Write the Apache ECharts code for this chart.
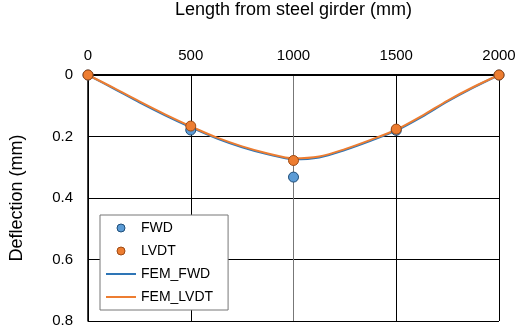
<!DOCTYPE html>
<html><head><meta charset="utf-8">
<script src="https://cdn.jsdelivr.net/npm/echarts@6/dist/echarts.min.js"></script>
<style>html,body{margin:0;padding:0;background:#fff}#c{width:518px;height:326px}</style>
</head><body><div id="c"></div>
<script>
var xTicks = [0, 500, 1000, 1500, 2000];
var fwdX = [0, 500, 1000, 1500, 2000];
var fwdY = [0, 0.179, 0.332, 0.180, 0];
var lvdtX = [0, 500, 1000, 1500, 2000];
var lvdtY = [0, 0.166, 0.278, 0.176, 0];
var femX = [0, 125, 250, 375, 500, 625, 750, 875, 1000, 1125, 1250, 1375, 1500, 1625, 1750, 1875, 2000];
var femFwdY = [0, 0.044, 0.089, 0.131, 0.170, 0.206, 0.235, 0.258, 0.274, 0.268, 0.244, 0.214, 0.181, 0.136, 0.086, 0.041, 0];
var femLvdtY = [0, 0.042, 0.086, 0.128, 0.167, 0.203, 0.232, 0.255, 0.271, 0.265, 0.241, 0.211, 0.178, 0.133, 0.083, 0.039, 0];

function pairs(xs, ys){ return xs.map(function(x,i){return [x, ys[i]];}); }
var font = 'Liberation Sans, Arial, sans-serif';
var chart = echarts.init(document.getElementById('c'), null, {renderer:'canvas'});
chart.setOption({
  animation: false,
  backgroundColor: '#fff',
  grid: {left: 88, right: 19, top: 75, bottom: 5, show: false, containLabel: false, outerBoundsMode: 'none'},
  xAxis: {
    type: 'value', position: 'top', min: 0, max: 2000, interval: 500,
    name: 'Length from steel girder (mm)', nameLocation: 'middle', nameGap: 56,
    nameTextStyle: {fontFamily: font, fontSize: 18, color: '#000'},
    axisLine: {show: true, lineStyle: {color: '#000', width: 2}},
    axisTick: {show: false},
    axisLabel: {fontFamily: font, fontSize: 15, color: '#000', margin: 12,
      formatter: function(v){ return String(v); }},
    splitLine: {show: true, lineStyle: {color: ['#000','#000','#777','#000','#000'], width: 1}}
  },
  yAxis: {
    type: 'value', inverse: true, min: 0, max: 0.8, interval: 0.2,
    name: 'Deflection (mm)', nameLocation: 'middle', nameGap: 62,
    nameTextStyle: {fontFamily: font, fontSize: 18, color: '#000'},
    axisLine: {show: true, lineStyle: {color: '#000', width: 1.5}},
    axisTick: {show: false},
    axisLabel: {fontFamily: font, fontSize: 15, color: '#000', margin: 15,
      formatter: function(v){ return String(Math.round(v*10)/10); }},
    splitLine: {show: true, lineStyle: {color: '#000', width: 1}}
  },
  legend: {
    orient: 'vertical', left: 100, top: 215,
    backgroundColor: '#fff', borderColor: '#777', borderWidth: 1, borderRadius: 0,
    padding: [6, 15, 6, 6],
    itemWidth: 30, itemHeight: 8, itemGap: 9,
    textStyle: {fontFamily: font, fontSize: 14, color: '#000'},
    data: [
      {name: 'FWD', icon: 'circle', itemStyle: {borderColor: '#1F4E79', borderWidth: 1}},
      {name: 'LVDT', icon: 'circle', itemStyle: {borderColor: '#9E4A14', borderWidth: 1}},
      {name: 'FEM_FWD', icon: 'path://M0,3 L30,3 L30,5 L0,5 Z'},
      {name: 'FEM_LVDT', icon: 'path://M0,3 L30,3 L30,5 L0,5 Z'}
    ]
  },
  series: [
    {name: 'FEM_FWD', type: 'line', data: pairs(femX, femFwdY), smooth: 0.3, showSymbol: false,
     lineStyle: {color: '#2E75B6', width: 2}, itemStyle: {color: '#2E75B6'}, z: 2},
    {name: 'FEM_LVDT', type: 'line', data: pairs(femX, femLvdtY), smooth: 0.3, showSymbol: false,
     lineStyle: {color: '#ED7D31', width: 2}, itemStyle: {color: '#ED7D31'}, z: 3},
    {name: 'FWD', type: 'scatter', data: pairs(fwdX, fwdY), symbolSize: 10,
     itemStyle: {color: '#5B9BD5', borderColor: '#1F4E79', borderWidth: 1, opacity: 1}, z: 4},
    {name: 'LVDT', type: 'scatter', data: pairs(lvdtX, lvdtY), symbolSize: 10,
     itemStyle: {color: '#ED7D31', borderColor: '#9E4A14', borderWidth: 1, opacity: 1}, z: 5}
  ]
});
</script></body></html>
